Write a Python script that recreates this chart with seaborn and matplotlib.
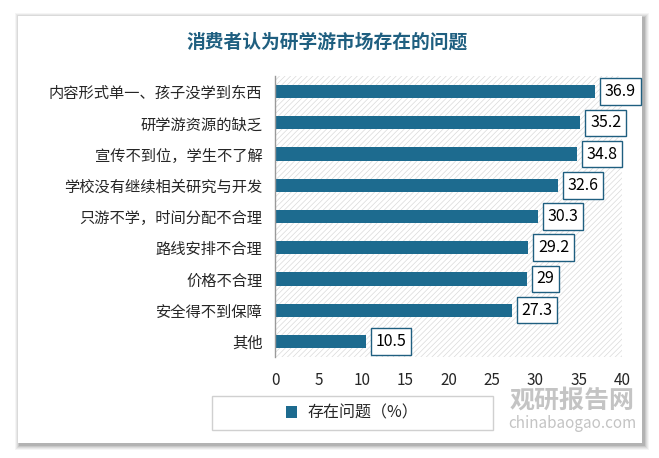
import matplotlib
matplotlib.use("Agg")
import matplotlib.pyplot as plt
import matplotlib.patches as mpatches
import seaborn as sns
import pandas as pd

categories = ["内容形式单一、孩子没学到东西", "研学游资源的缺乏", "宣传不到位，学生不了解",
              "学校没有继续相关研究与开发", "只游不学，时间分配不合理", "路线安排不合理",
              "价格不合理", "安全得不到保障", "其他"]
values = [36.9, 35.2, 34.8, 32.6, 30.3, 29.2, 29, 27.3, 10.5]
value_labels = ["36.9", "35.2", "34.8", "32.6", "30.3", "29.2", "29", "27.3", "10.5"]
xticks = [0, 5, 10, 15, 20, 25, 30, 35, 40]
series_name = "存在问题（%）"
title = "消费者认为研学游市场存在的问题"

sns.set_theme(style="white")
plt.rcParams['font.family'] = ['Noto Sans CJK SC', 'DejaVu Sans']
plt.rcParams['hatch.linewidth'] = 0.5

W, H = 659, 458
fig = plt.figure(figsize=(W / 100, H / 100), dpi=100)
fig.patch.set_facecolor("white")

# card shadow + card
for i, a in enumerate([0.04, 0.05, 0.06, 0.08, 0.10]):
    d = 5 - i
    fig.patches.append(mpatches.Rectangle(((18 - d + 2) / W, (H - 443 - d - 2) / H),
                                          (624 + 2 * d) / W, (427 + 2 * d) / H,
                                          transform=fig.transFigure, facecolor="black",
                                          alpha=a, edgecolor="none", zorder=0))
fig.patches.append(mpatches.Rectangle((18 / W, (H - 443) / H), 624 / W, 427 / H,
                                      transform=fig.transFigure, facecolor="white",
                                      edgecolor="none", zorder=1))

fig.text(327 / W, 1 - 42 / H, title, ha="center", va="center", fontsize=13.5,
         fontweight="bold", color="#1f5f80")

# watermark (behind the axes texts)
fig.text(572 / W, 1 - 401 / H, "观研报告网", ha="center", va="center", fontsize=18,
         fontweight="bold", color="#c4c4c4", zorder=1.2)
fig.text(572 / W, 1 - 423 / H, "chinabaogao.com", ha="center", va="center", fontsize=11,
         color="#c4c4c4", zorder=1.2)

# legend frame drawn manually to match width
fig.patches.append(mpatches.Rectangle((212 / W, 1 - 430 / H), 281 / W, 34 / H,
                                      transform=fig.transFigure, facecolor="none",
                                      edgecolor="#d0d0d0", linewidth=1, zorder=1.5))

ax = fig.add_axes([275 / W, 1 - 357 / H, 347 / W, 281 / H])
ax.set_zorder(2)
df = pd.DataFrame({"问题": categories, "值": values})
bar_color = "#1d6b8f"
sns.barplot(data=df, y="问题", x="值", orient="h", color=bar_color, width=0.42,
            ax=ax, saturation=1, edgecolor="none", label=series_name)

ax.set_facecolor("white")
bg = mpatches.Rectangle((0, 0), 1, 1, transform=ax.transAxes, facecolor="white",
                        edgecolor="#dadada", hatch="//////", linewidth=0, zorder=0)
ax.add_patch(bg)

ax.set_xlim(0, 40)
ax.set_ylim(len(categories) - 0.5, -0.5)
ax.set_xticks(xticks)
ax.set_xticklabels([str(t) for t in xticks], fontsize=11)
ax.tick_params(axis="x", length=0, pad=11)
ax.tick_params(axis="y", length=0, pad=9, labelsize=11)
ax.set_xlabel("")
ax.set_ylabel("")
for s in ["top", "right", "bottom"]:
    ax.spines[s].set_visible(False)
ax.spines["left"].set_color("#9a9a9a")
ax.spines["left"].set_linewidth(1)

for c in ax.containers:
    for bar, lab in zip(c, value_labels):
        ax.annotate(lab, xy=(bar.get_width(), bar.get_y() + bar.get_height() / 2),
                    xytext=(7, 0), textcoords="offset points", ha="left", va="center",
                    fontsize=11.5, color="black",
                    bbox=dict(boxstyle="square,pad=0.3", facecolor="white",
                              edgecolor="#1f5f80", linewidth=1))

leg = ax.legend(loc="center", bbox_to_anchor=(352 / W, 1 - 413 / H),
                bbox_transform=fig.transFigure, frameon=False, fontsize=11.5,
                handlelength=0.7, handleheight=0.7, handletextpad=0.6)

fig.savefig("out.png", dpi=100)
